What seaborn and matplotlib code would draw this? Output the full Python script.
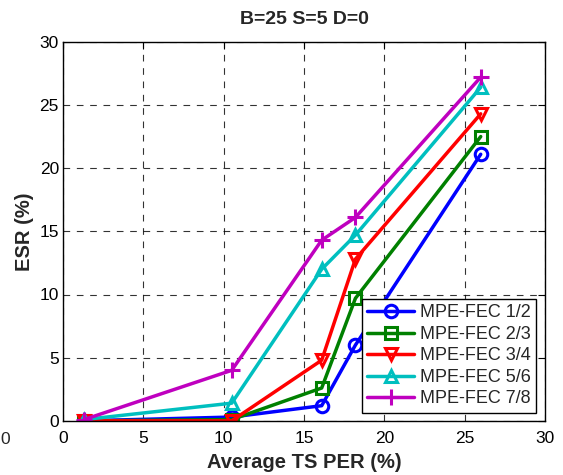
import matplotlib
matplotlib.use("Agg")
import matplotlib.pyplot as plt
import seaborn as sns
import pandas as pd

x_per = [1.3, 10.5, 16.1, 18.2, 26.0]
esr_12 = [0.0, 0.3, 1.2, 6.0, 21.1]
esr_23 = [0.0, 0.1, 2.6, 9.7, 22.5]
esr_34 = [0.0, 0.0, 4.8, 12.8, 24.3]
esr_56 = [0.1, 1.4, 12.0, 14.7, 26.4]
esr_78 = [0.1, 4.0, 14.3, 16.1, 27.2]
labels = ["MPE-FEC 1/2", "MPE-FEC 2/3", "MPE-FEC 3/4", "MPE-FEC 5/6", "MPE-FEC 7/8"]
series = [esr_12, esr_23, esr_34, esr_56, esr_78]
colors = ["#0000ff", "#008000", "#ff0000", "#00bfbf", "#bf00bf"]
markers = ["o", "s", "v", "^", "+"]

sns.set_style("white")
plt.rcParams['font.family'] = ['Liberation Sans', 'DejaVu Sans']

rows = []
for lab, ys in zip(labels, series):
    for xv, yv in zip(x_per, ys):
        rows.append({"x": xv, "y": yv, "code": lab})
df = pd.DataFrame(rows)

fig = plt.figure(figsize=(5.63, 4.75), dpi=100)
ax = fig.add_axes([0.112, 0.114, 0.856, 0.798])

for lab, c, m in zip(labels, colors, markers):
    sub = df[df["code"] == lab]
    sns.lineplot(data=sub, x="x", y="y", ax=ax, color=c, marker=m, label=lab,
                 linewidth=2.5, markersize=9 if m != "+" else 11,
                 markerfacecolor="none", markeredgecolor=c, markeredgewidth=2.2)

ax.set_xlim(0, 30)
ax.set_ylim(0, 30)
ax.set_xticks(range(0, 31, 5))
ax.set_yticks(range(0, 31, 5))
ax.grid(True, color="black", linestyle=(0, (6, 6)), linewidth=0.8, alpha=0.8)
ax.tick_params(direction="in", top=True, right=True, labelsize=12.5, length=5,
               colors="black", pad=3)
ax.tick_params(axis="x", pad=7)
for s in ax.spines.values():
    s.set_color("black")
    s.set_linewidth(1.0)
ax.set_xlabel("Average TS PER (%)", fontsize=14.5, fontweight="bold", labelpad=5)
ax.set_ylabel("ESR (%)", fontsize=14.5, fontweight="bold", labelpad=4)
ax.set_title("B=25 S=5 D=0", fontsize=14, fontweight="bold", pad=13)

leg = ax.legend(loc="lower right", fontsize=13, frameon=True, fancybox=False,
                framealpha=1, edgecolor="black", handlelength=2.6,
                borderpad=0.3, labelspacing=0.25, handletextpad=0.3,
                borderaxespad=0, bbox_to_anchor=(0.981, 0.021))
leg.get_frame().set_linewidth(1.0)

fig.text(0.0, 0.074, "0", fontsize=12.5, ha="left", va="center")

fig.savefig("out.png", dpi=100)
